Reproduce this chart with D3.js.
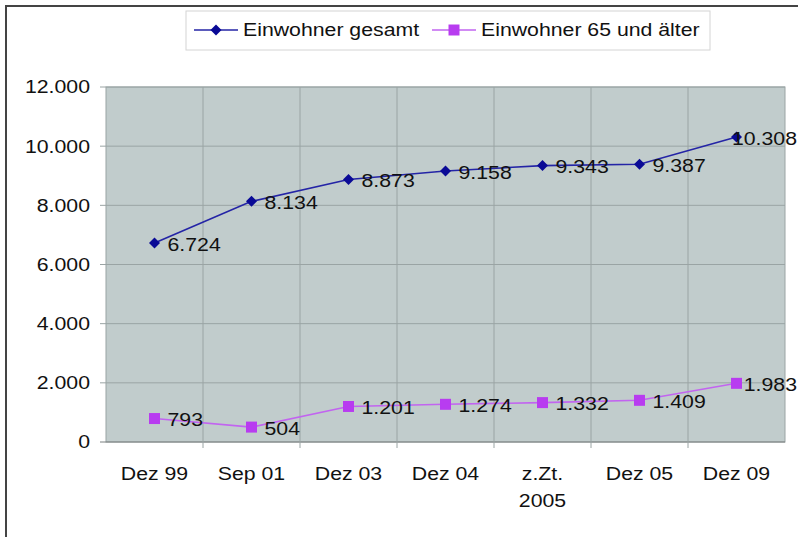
<!DOCTYPE html>
<html>
<head>
<meta charset="utf-8">
<script src="https://cdn.jsdelivr.net/npm/d3@7"></script>
<style>
  body { margin: 0; background: #fff; }
  text { font-family: Arial, "Liberation Sans", sans-serif; fill: #111; font-size: 18.5px; }
</style>
</head>
<body>
<div id="chart"></div>
<script>
// categories and values
var categories = ["Dez 99", "Sep 01", "Dez 03", "Dez 04", "z.Zt.\n2005", "Dez 05", "Dez 09"];
var gesamt = [6724, 8134, 8873, 9158, 9343, 9387, 10308];
var senioren = [793, 504, 1201, 1274, 1332, 1409, 1983];
var yTicks = [0, 2000, 4000, 6000, 8000, 10000, 12000];
var seriesNames = ["Einwohner gesamt", "Einwohner 65 und älter"];

var width = 798, height = 537;
var plot = {left: 106, right: 785, top: 87, bottom: 442};
var stretch = 1.15; // text in the original is drawn wide

var fmt = function(v) { return d3.format(",")(v).replace(/,/g, "."); };

var svg = d3.select("#chart").append("svg")
    .attr("width", width)
    .attr("height", height);

// draws a text a bit wider than the font, like the source picture
function label(parent, px, py, str, anchor) {
  return parent.append("text")
      .attr("transform", "translate(" + px + "," + py + ") scale(" + stretch + ",1)")
      .attr("dy", "0.35em")
      .attr("text-anchor", anchor || "start")
      .text(str);
}

// outer frame (only top and left visible)
svg.append("path")
    .attr("d", "M6,537V6H798")
    .attr("fill", "none")
    .attr("stroke", "#444")
    .attr("stroke-width", 2);

var x = d3.scaleBand()
    .domain(categories)
    .range([plot.left, plot.right]);

var y = d3.scaleLinear()
    .domain([0, 12000])
    .range([plot.bottom, plot.top]);

// plot background
svg.append("rect")
    .attr("x", plot.left)
    .attr("y", plot.top)
    .attr("width", plot.right - plot.left)
    .attr("height", plot.bottom - plot.top)
    .attr("fill", "#c1cccc")
    .attr("stroke", "#9aa4a4");

// horizontal gridlines + y ticks
svg.append("g").selectAll("line")
    .data(yTicks)
  .enter().append("line")
    .attr("x1", plot.left - 6)
    .attr("x2", plot.right)
    .attr("y1", function(d) { return y(d); })
    .attr("y2", function(d) { return y(d); })
    .attr("stroke", function(d) { return d === 0 ? "#7a8080" : "#9aa4a4"; });

var yl = svg.append("g");
yTicks.forEach(function(d) {
  label(yl, plot.left - 16, y(d), fmt(d), "end");
});

// vertical gridlines at category boundaries, with ticks below
var bounds = categories.slice(1).map(function(c) { return x(c); });
svg.append("g").selectAll("line")
    .data(bounds)
  .enter().append("line")
    .attr("x1", function(d) { return d; })
    .attr("x2", function(d) { return d; })
    .attr("y1", plot.top)
    .attr("y2", plot.bottom + 6)
    .attr("stroke", "#9aa4a4");

// x labels
var xl = svg.append("g");
categories.forEach(function(c) {
  c.split("\n").forEach(function(line, i) {
    label(xl, x(c) + x.bandwidth() / 2, 474 + i * 27, line, "middle");
  });
});

var cx = function(d, i) { return x(categories[i]) + x.bandwidth() / 2; };

var line = d3.line()
    .x(function(d, i) { return cx(d, i); })
    .y(function(d) { return y(d); });

var diamond = "M0,-5.5L5.5,0L0,5.5L-5.5,0Z";
var square = "M-5.5,-5.5H5.5V5.5H-5.5Z";

var series = [
  {name: seriesNames[0], values: gesamt, line: "#2424a6", marker: "#0a0a96", shape: diamond},
  {name: seriesNames[1], values: senioren, line: "#c264f0", marker: "#b83cf0", shape: square}
];

series.forEach(function(s) {
  svg.append("path")
      .datum(s.values)
      .attr("d", line)
      .attr("fill", "none")
      .attr("stroke", s.line)
      .attr("stroke-width", 1.6);

  svg.append("g").selectAll("path")
      .data(s.values)
    .enter().append("path")
      .attr("transform", function(d, i) { return "translate(" + cx(d, i) + "," + y(d) + ")"; })
      .attr("d", s.shape)
      .attr("fill", s.marker);

  var lg = svg.append("g");
  s.values.forEach(function(d, i) {
    var t = label(lg, cx(d, i) + 13, y(d) + 1, fmt(d));
    // keep the last label inside the picture
    var w = t.node().getComputedTextLength() * stretch;
    var lx = Math.min(cx(d, i) + 13, width - w - 1);
    t.attr("transform", "translate(" + lx + "," + (y(d) + 1) + ") scale(" + stretch + ",1)");
  });
});

// legend
var legend = svg.append("g");
legend.append("rect")
    .attr("x", 186)
    .attr("y", 11)
    .attr("width", 524)
    .attr("height", 39)
    .attr("fill", "#fff")
    .attr("stroke", "#d4d4d4");

var legX = [194, 432];
series.forEach(function(s, i) {
  var g = legend.append("g").attr("transform", "translate(" + legX[i] + ",30)");
  g.append("line")
      .attr("x1", 0).attr("x2", 44)
      .attr("stroke", s.line)
      .attr("stroke-width", 1.6);
  g.append("path")
      .attr("transform", "translate(22,0)")
      .attr("d", s.shape)
      .attr("fill", s.marker);
  label(g, 49, 0, s.name);
});
</script>
</body>
</html>
